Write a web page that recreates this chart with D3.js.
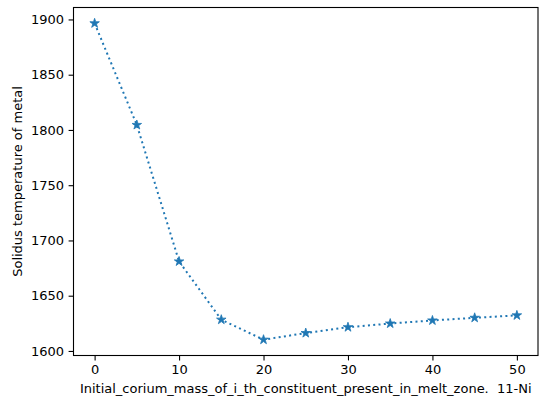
<!DOCTYPE html>
<html>
<head>
<meta charset="utf-8">
<script src="https://cdn.jsdelivr.net/npm/d3@7"></script>
<style>
body { margin: 0; background: #fff; }
svg { display: block; font-family: "DejaVu Sans", sans-serif; }
</style>
</head>
<body>
<div id="chart"></div>
<script>
var xValues = [0, 5, 10, 15, 20, 25, 30, 35, 40, 45, 50]; // initial mass
var yValues = [1896.5, 1804.5, 1681, 1628.3, 1610.2, 1616.2, 1621.5, 1624.8, 1627.6, 1630, 1632.2]; // solidus temp
var xTicks = [0, 10, 20, 30, 40, 50];
var yTicks = [1600, 1650, 1700, 1750, 1800, 1850, 1900];

var svgWidth = 539, svgHeight = 401;
var margin = { top: 7.5, right: 1, bottom: 45.5, left: 73.5 };
var width = svgWidth - margin.left - margin.right;
var height = svgHeight - margin.top - margin.bottom;

var svg = d3.select("#chart").append("svg")
    .attr("width", svgWidth)
    .attr("height", svgHeight);

var g = svg.append("g")
    .attr("transform", `translate(${margin.left},${margin.top})`);

// matplotlib style 5% margins
var xExt = d3.extent(xValues), yExt = d3.extent(yValues);
var xPad = (xExt[1] - xExt[0]) * 0.05, yPad = (yExt[1] - yExt[0]) * 0.05;
var x = d3.scaleLinear().domain([xExt[0] - xPad, xExt[1] + xPad]).range([0, width]);
var y = d3.scaleLinear().domain([yExt[0] - yPad, yExt[1] + yPad]).range([height, 0]);

var xAxis = g.append("g")
    .attr("transform", `translate(0,${height})`)
    .call(d3.axisBottom(x).tickValues(xTicks).tickSize(4.9).tickPadding(4.5).tickFormat(d3.format("d")));
var yAxis = g.append("g")
    .call(d3.axisLeft(y).tickValues(yTicks).tickSize(4.9).tickPadding(4.5).tickFormat(d3.format("d")));

[xAxis, yAxis].forEach(function(a) {
    a.select(".domain").remove();
    a.selectAll("line").attr("stroke", "#000").attr("stroke-width", 1.1);
    a.selectAll("text").attr("fill", "#000").style("font-size", "13px").style("font-family", "DejaVu Sans");
});

// frame
g.append("rect")
    .attr("width", width).attr("height", height)
    .attr("fill", "none").attr("stroke", "#000").attr("stroke-width", 1.1);

var pts = xValues.map((d, i) => [d, yValues[i]]);

g.append("path")
    .datum(pts)
    .attr("fill", "none")
    .attr("stroke", "#1f77b4")
    .attr("stroke-width", 2)
    .attr("stroke-dasharray", "2,3.3")
    .attr("d", d3.line().x(d => x(d[0])).y(d => y(d[1])));

var star = d3.symbol().type(d3.symbolStar).size(28);
g.selectAll(".pt")
    .data(pts)
    .enter().append("path")
    .attr("class", "pt")
    .attr("d", star)
    .attr("fill", "#1f77b4")
    .attr("stroke", "#1f77b4")
    .attr("stroke-width", 0.8)
    .attr("transform", d => `translate(${x(d[0])},${y(d[1])})`);

svg.append("text")
    .attr("x", margin.left + width / 2)
    .attr("y", 393)
    .attr("text-anchor", "middle")
    .style("font-size", "13px")
    .text("Initial_corium_mass_of_i_th_constituent_present_in_melt_zone.  11-Ni")
    .attr("xml:space", "preserve");

svg.append("text")
    .attr("transform", `translate(22,${margin.top + height / 2}) rotate(-90)`)
    .attr("text-anchor", "middle")
    .style("font-size", "13px")
    .text("Solidus temperature of metal");
</script>
</body>
</html>
